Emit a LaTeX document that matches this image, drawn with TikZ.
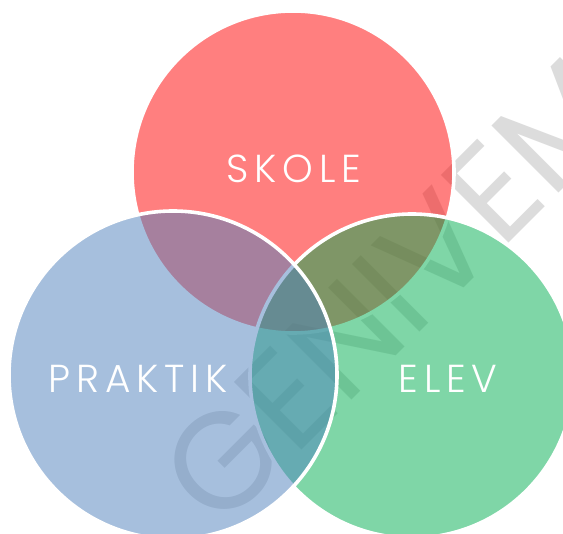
\documentclass[tikz,border=0pt]{standalone}
\usepackage{fontspec}
\newfontfamily\wmfont{Poppins}
\newfontfamily\lblfont{Poppins Light}[LetterSpace=15]
\definecolor{cred}{HTML}{FF0000}
\definecolor{cgreen}{HTML}{00AE50}
\definecolor{cblue}{HTML}{4F81BD}
\definecolor{wmgray}{HTML}{DCDCDC}
\tikzset{
  venn/.style={draw=white, line width=3.6pt, fill opacity=0.5, draw opacity=1},
  lbl/.style={text=white, font=\lblfont\fontsize{39}{39}\selectfont, inner sep=0pt, anchor=base},
  wm/.style={text=wmgray, font=\wmfont\fontsize{137}{137}\selectfont, inner sep=0pt, anchor=base west, rotate=45}
}
\begin{document}
\begin{tikzpicture}[x=1pt,y=-1pt]
\useasboundingbox (0,0) rectangle (563,534);
\clip (0,0) rectangle (563,534);
\fill[white] (0,0) rectangle (563,534);
\node[wm] (mark) at (219,533) {GENIVEM};
\path[venn, fill=cred] (293,172) circle[radius=161] coordinate (cr);
\path[venn, fill=cgreen] (412,376) circle[radius=162] coordinate (cg);
\path[venn, fill=cblue] (173,375) circle[radius=164] coordinate (cb);
\node[lbl] (skole) at (294,183) {SKOLE};
\node[lbl] (praktik) at (138,393) {PRAKTIK};
\node[lbl] (elev) at (448,393) {ELEV};
\end{tikzpicture}
\end{document}
